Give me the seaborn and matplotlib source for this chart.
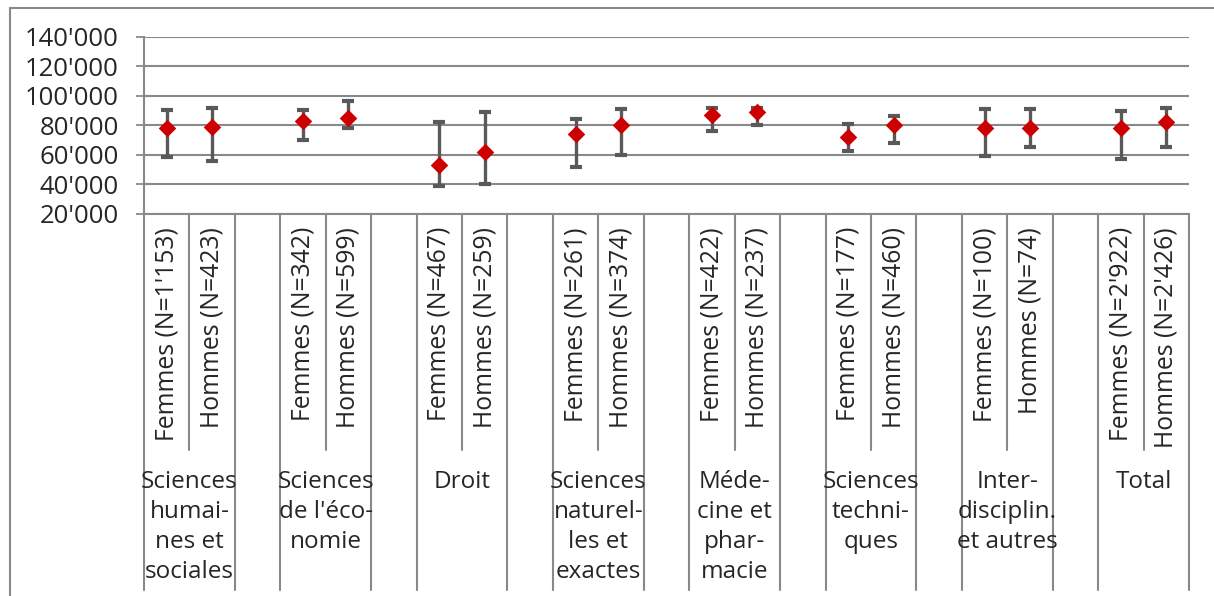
import numpy as np
import pandas as pd
import matplotlib.pyplot as plt
from matplotlib.lines import Line2D
from matplotlib.ticker import FuncFormatter
import seaborn as sns

# Data
groups = ["Sciences\nhumai-\nnes et\nsociales", "Sciences\nde l'éco-\nnomie", "Droit",
          "Sciences\nnaturel-\nles et\nexactes", "Méde-\ncine et\nphar-\nmacie",
          "Sciences\ntechni-\nques", "Inter-\ndisciplin.\net autres", "Total"]
n_femmes = ["1'153", "342", "467", "261", "422", "177", "100", "2'922"]
n_hommes = ["423", "599", "259", "374", "237", "460", "74", "2'426"]

femmes_mean = [78000, 83000, 53000, 74000, 86700, 72200, 78000, 78000]
femmes_low = [58200, 70000, 39000, 51900, 76300, 62700, 59100, 57100]
femmes_high = [90300, 90300, 82000, 84400, 91500, 80800, 90800, 89800]
hommes_mean = [79000, 85300, 61800, 80000, 89200, 80000, 78000, 82200]
hommes_low = [55900, 77900, 39900, 60000, 80100, 67700, 65000, 65000]
hommes_high = [91500, 96400, 89200, 91000, 92000, 86400, 90800, 91500]

# long table, one row per bar
rows = []
for i, g in enumerate(groups):
    rows.append(dict(pos=3 * i, label=f"Femmes (N={n_femmes[i]})", mean=femmes_mean[i],
                     low=femmes_low[i], high=femmes_high[i]))
    rows.append(dict(pos=3 * i + 1, label=f"Hommes (N={n_hommes[i]})", mean=hommes_mean[i],
                     low=hommes_low[i], high=hommes_high[i]))
df = pd.DataFrame(rows)

sns.set_style("white")
plt.rcParams['font.family'] = ['Open Sans', 'DejaVu Sans']

grey = '#898989'
fig = plt.figure(figsize=(12.14, 5.96), dpi=100)
ax = fig.add_axes([144 / 1214, 1 - 213.7 / 596, (1189 - 144) / 1214, 176.7 / 596])

# error bars then markers
ax.errorbar(df['pos'], df['mean'], yerr=[df['mean'] - df['low'], df['high'] - df['mean']],
            fmt='none', ecolor='#595959', elinewidth=2.4, capsize=4.5, capthick=3, zorder=2)
sns.scatterplot(data=df, x='pos', y='mean', marker='D', color='#cc0000', s=80,
                linewidth=0, zorder=3, ax=ax, legend=False)

ax.set_xlim(-0.5, 22.5)
ax.set_ylim(20000, 140000)
ax.set_yticks(np.arange(20000, 140001, 20000))
ax.yaxis.set_major_formatter(FuncFormatter(lambda v, p: f"{v:,.0f}".replace(",", "'")))
ax.tick_params(axis='y', labelsize=18.5, length=6, width=1.3, color=grey, pad=12, left=True)
ax.set_xticks([])
ax.set_xlabel('')
ax.set_ylabel('')
ax.grid(axis='y', color=grey, linewidth=1.5)
ax.set_axisbelow(True)
for s in ['top', 'right']:
    ax.spines[s].set_visible(False)
for s in ['left', 'bottom']:
    ax.spines[s].set_color(grey)
    ax.spines[s].set_linewidth(1.5)

# category axis: separators and labels below the plot
tr = ax.get_xaxis_transform()
short_end = (213.7 - 450) / 176.7
long_end = (213.7 - 590) / 176.7
for b in range(24):
    x = b - 0.5
    y1 = short_end if b % 3 == 1 else long_end
    ax.plot([x, x], [0, y1], color=grey, lw=1.5, transform=tr, clip_on=False)

for _, r in df.iterrows():
    ax.text(r['pos'], (213.7 - 227) / 176.7, r['label'], rotation=90, ha='center', va='top',
            fontsize=17.8, transform=tr)
for i, g in enumerate(groups):
    ax.text(3 * i + 0.5, (213.7 - 470) / 176.7, g, ha='center', va='top', fontsize=17.5,
            linespacing=1.33, transform=tr)

# outer chart frame (left and top edges)
fig.add_artist(Line2D([10 / 1214, 10 / 1214], [0, 1 - 8 / 596], color=grey, lw=1.5))
fig.add_artist(Line2D([10 / 1214, 1], [1 - 8 / 596, 1 - 8 / 596], color=grey, lw=1.5))

fig.savefig('out.png', dpi=100)
